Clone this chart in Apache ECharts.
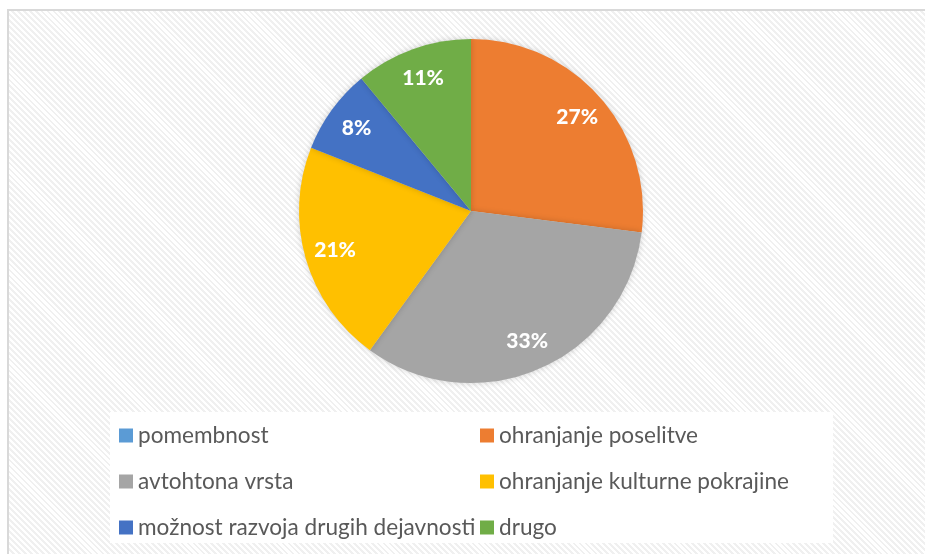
<!DOCTYPE html>
<html>
<head>
<meta charset="utf-8">
<script src="https://cdn.jsdelivr.net/npm/echarts@6/dist/echarts.min.js"></script>
<style>
  html, body { margin: 0; padding: 0; background: #fff; width: 925px; height: 554px; overflow: hidden; }
  #frame {
    position: absolute; left: 7px; top: 9px; width: 940px; height: 560px;
    border-left: 2px solid #d9d9d9; border-top: 2px solid #d9d9d9;
    background: repeating-linear-gradient(45deg, #ffffff 0px, #ffffff 2.2px, #f0f0f0 2.2px, #f0f0f0 4.2px);
  }
  #chart { position: absolute; left: 0; top: 0; width: 925px; height: 554px; }
</style>
</head>
<body>
<div id="frame"></div>
<div id="chart"></div>
<script>
const categories = ['pomembnost', 'ohranjanje poselitve', 'avtohtona vrsta', 'ohranjanje kulturne pokrajine', 'možnost razvoja drugih dejavnosti', 'drugo'];
const values = [0, 27, 33, 21, 8, 11];
const colors = ['#5B9BD5', '#ED7D31', '#A5A5A5', '#FFC000', '#4472C4', '#70AD47'];

const data = categories.map((name, i) => ({ name: name, value: values[i], itemStyle: { color: colors[i] } }));
const labelData = categories.map((name, i) => ({ name: name, value: values[i], itemStyle: { color: 'rgba(0,0,0,0)' } }));

const chart = echarts.init(document.getElementById('chart'), null, { renderer: 'canvas' });
const legendText = { color: '#595959', fontSize: 22.6, fontFamily: 'Lato', lineHeight: 22 };
chart.setOption({
  backgroundColor: 'transparent',
  animation: false,
  graphic: [{
    type: 'rect', z: -10, silent: true,
    shape: { x: 110, y: 412, width: 723, height: 131 },
    style: { fill: '#ffffff' }
  }],
  legend: [
    {
      orient: 'vertical', left: 119, top: 424, padding: 0,
      data: [categories[0], categories[2], categories[4]],
      itemWidth: 14, itemHeight: 14, itemGap: 23, icon: 'rect',
      textStyle: legendText, selectedMode: false
    },
    {
      orient: 'vertical', left: 480, top: 424, padding: 0,
      data: [categories[1], categories[3], categories[5]],
      itemWidth: 14, itemHeight: 14, itemGap: 23, icon: 'rect',
      textStyle: legendText, selectedMode: false
    }
  ],
  series: [
    {
      type: 'pie',
      center: [471, 211],
      radius: [0, 172],
      startAngle: 90,
      clockwise: true,
      label: { show: false },
      labelLine: { show: false },
      itemStyle: { shadowBlur: 6, shadowColor: 'rgba(0,0,0,0.18)' },
      emphasis: { disabled: true },
      data: data
    },
    {
      type: 'pie',
      center: [471, 211],
      radius: [105, 172],
      startAngle: 90,
      clockwise: true,
      silent: true,
      legendHoverLink: false,
      label: {
        show: true, position: 'inside',
        color: '#ffffff', fontSize: 21, fontWeight: 900, fontFamily: 'Lato',
        formatter: p => p.value ? p.value + '%' : ''
      },
      labelLine: { show: false },
      emphasis: { disabled: true },
      data: labelData
    }
  ]
});
</script>
</body>
</html>
